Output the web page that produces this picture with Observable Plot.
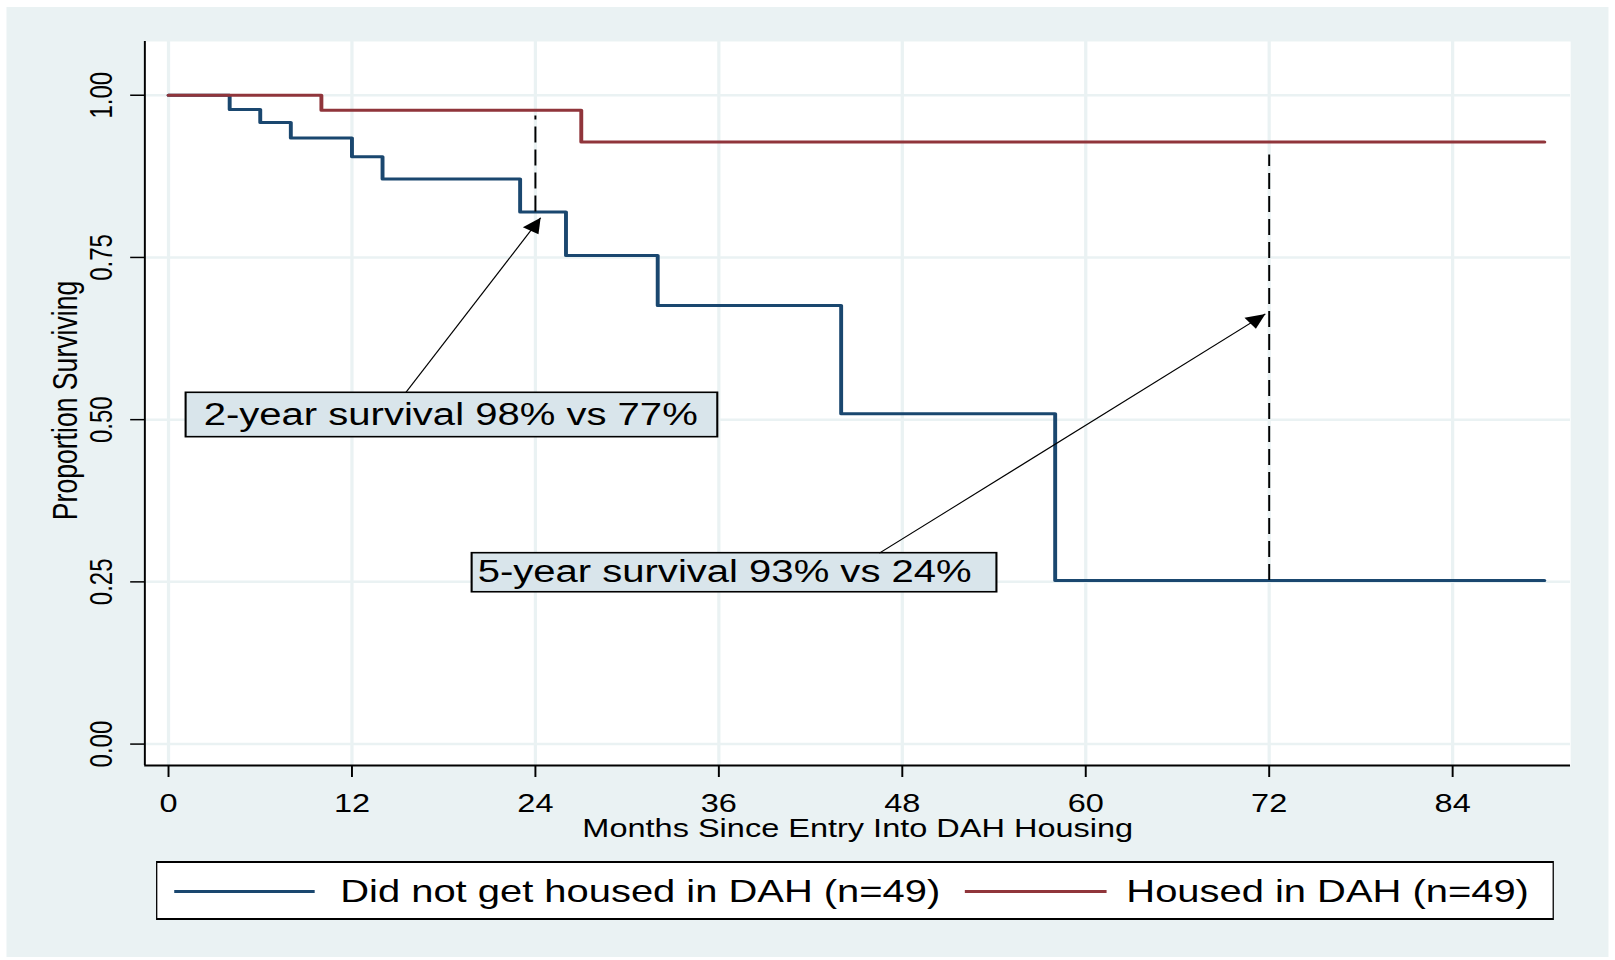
<!DOCTYPE html>
<html>
<head>
<meta charset="utf-8">
<script src="https://cdn.jsdelivr.net/npm/d3@7"></script>
<script src="https://cdn.jsdelivr.net/npm/@observablehq/plot@0.6"></script>
<style>
  html, body { margin: 0; padding: 0; background: #ffffff; overflow: hidden; width: 1615px; height: 960px; }
  #wrap { position: absolute; left: 0; top: 0; width: 1242px; height: 960px;
          transform: scaleX(1.30032); transform-origin: 0 0;
          font-family: "Liberation Sans", Arial, sans-serif; }
  #bg { position: absolute; left: 5.38px; top: 7px; width: 1231.3px; height: 950px; background: #eaf2f3; }
  #chart { position: absolute; left: 0; top: 0; width: 1242px; }
  #legend { position: absolute; left: 120.4px; top: 861px; width: 1073px; height: 55px; background: #ffffff;
            border: 2px solid #000; border-left-width: 1.5px; border-right-width: 1.5px; }
  .sw { position: absolute; height: 3px; top: 27.2px; }
  .lt { position: absolute; top: 11px; font-size: 30.7px; line-height: 36px; white-space: nowrap; color: #000; }
</style>
</head>
<body>
<div id="wrap">
  <div id="bg"></div>
  <div id="chart"></div>
  <div id="legend"></div>
</div>
<script>
// ---------- data ----------
const xTicks = [0, 12, 24, 36, 48, 60, 72, 84];
const yTicks = [0, 0.25, 0.5, 0.75, 1];

const seriesNames = ["Did not get housed in DAH (n=49)", "Housed in DAH (n=49)"];
const seriesColors = ["#1a476f", "#90353b"];

const notHousedTime = [0, 4, 6, 8, 12, 14, 23, 26, 32, 44, 58, 90];
const notHousedSurv = [1, 0.978, 0.958, 0.934, 0.905, 0.871, 0.820, 0.753, 0.676, 0.509, 0.252, 0.252];

const housedTime = [0, 10, 27, 90];
const housedSurv = [1, 0.977, 0.928, 0.928];

const xLabel = "Months Since Entry Into DAH Housing";
const yLabel = "Proportion Surviving";

// annotations (data coordinates)
const annLabels = ["2-year survival 98% vs 77%", "5-year survival 93% vs 24%"];
const annTextX = [2.3, 20.22];
const annTextY = [0.491, 0.2494];
const annBoxX1 = [1.16, 19.87];
const annBoxX2 = [35.94, 54.2];
const annBoxY1 = [0.473, 0.234];
const annBoxY2 = [0.5414, 0.2942];
const arrowX1 = [15.51, 46.5];
const arrowY1 = [0.5414, 0.2942];
const arrowX2 = [24.34, 71.75];
const arrowY2 = [0.811, 0.663];

const dashX = [24, 72];
const dashY1 = [0.820, 0.252];
const dashY2 = [0.968, 0.908];

// ---------- layout ----------
const W = 1242, H = 850;
const xDomain = [-1.548, 91.72];
const yDomain = [-0.033, 1.0828];
const gridColor = "#eaf2f3";

// ---------- build tables ----------
const curves = [
  ...notHousedTime.map((t, i) => ({series: seriesNames[0], t, s: notHousedSurv[i]})),
  ...housedTime.map((t, i) => ({series: seriesNames[1], t, s: housedSurv[i]}))
];
const ann = annLabels.map((label, i) => ({
  label, tx: annTextX[i], ty: annTextY[i],
  bx1: annBoxX1[i], bx2: annBoxX2[i], by1: annBoxY1[i], by2: annBoxY2[i],
  ax1: arrowX1[i], ay1: arrowY1[i], ax2: arrowX2[i], ay2: arrowY2[i]
}));
const dashes = dashX.map((x, i) => ({x, y1: dashY1[i], y2: dashY2[i]}));

const chart = Plot.plot({
  width: W,
  height: H,
  marginLeft: 110.9,
  marginRight: W - 1207.4,
  marginTop: 41,
  marginBottom: H - 765,
  style: {background: "transparent", color: "#000", fontFamily: "\"Liberation Sans\", Arial, sans-serif"},
  x: {domain: xDomain, nice: false},
  y: {domain: yDomain, nice: false},
  color: {domain: seriesNames, range: seriesColors},
  marks: [
    Plot.frame({fill: "#ffffff", stroke: null}),
    Plot.gridX(xTicks, {stroke: gridColor, strokeOpacity: 1, strokeWidth: 2.5}),
    Plot.gridY(yTicks, {stroke: gridColor, strokeOpacity: 1, strokeWidth: 2.5}),
    Plot.ruleY([yDomain[0]], {stroke: "#000", strokeWidth: 2}),
    Plot.ruleX([xDomain[0]], {stroke: "#000", strokeWidth: 1.5}),
    Plot.line(curves, {x: "t", y: "s", z: "series", stroke: "series", curve: "step-after", strokeWidth: 3}),
    Plot.ruleX(dashes, {x: "x", y1: "y1", y2: "y2", stroke: "#000", strokeWidth: 1.5, strokeDasharray: "16,7"}),
    Plot.rect(ann, {x1: "bx1", x2: "bx2", y1: "by1", y2: "by2", fill: "#d9e5eb", stroke: "#000", strokeWidth: 1.6}),
    Plot.text(ann, {x: "tx", y: "ty", text: "label", textAnchor: "start", lineAnchor: "bottom", fontSize: 30.8, fill: "#000"}),
    Plot.link(ann, {x1: "ax1", y1: "ay1", x2: "ax2", y2: "ay2", stroke: "#000", strokeWidth: 1, markerEnd: "arrow"}),
    Plot.axisX({ticks: xTicks, tickSize: 12, tickPadding: 16.3, fontSize: 25, label: null, stroke: "#000", strokeWidth: 1.5}),
    Plot.axisY({ticks: yTicks, tickSize: 10.8, tickPadding: 14.7, tickRotate: -90, tickFormat: d3.format(".2f"),
                fontSize: 24, label: null, stroke: "#000", strokeWidth: 1.5}),
    Plot.text([xLabel], {text: d => d, frameAnchor: "bottom", dy: 71.7, lineAnchor: "bottom", fontSize: 25, fill: "#000"}),
    Plot.text([yLabel], {text: d => d, frameAnchor: "left", rotate: -90, dx: -51.9, dy: -3, lineAnchor: "bottom",
                         textAnchor: "middle", fontSize: 26.6, fill: "#000"})
  ]
});

// filled triangular arrowheads
chart.querySelectorAll("marker").forEach(m => {
  m.setAttribute("viewBox", "-16 -8 17 16");
  m.setAttribute("markerWidth", 17);
  m.setAttribute("markerHeight", 16);
  m.setAttribute("markerUnits", "userSpaceOnUse");
  m.setAttribute("refX", 0);
  m.setAttribute("refY", 0);
  m.setAttribute("fill", "#000");
  m.setAttribute("stroke", "none");
  m.innerHTML = "";
  const p = document.createElementNS("http://www.w3.org/2000/svg", "path");
  p.setAttribute("d", "M-15,-7L0,0L-15,7Z");
  m.appendChild(p);
});

document.getElementById("chart").appendChild(chart);

// ---------- legend ----------
const legend = document.getElementById("legend");
const legendPos = [
  {sw: 12.7, swW: 108.4, txt: 140.3},
  {sw: 620.7, swW: 109.1, txt: 744.8}
];
seriesNames.forEach((name, i) => {
  const sw = document.createElement("div");
  sw.className = "sw";
  sw.style.left = legendPos[i].sw + "px";
  sw.style.width = legendPos[i].swW + "px";
  sw.style.background = seriesColors[i];
  legend.appendChild(sw);
  const t = document.createElement("div");
  t.className = "lt";
  t.style.left = legendPos[i].txt + "px";
  t.textContent = name;
  legend.appendChild(t);
});
</script>
</body>
</html>
